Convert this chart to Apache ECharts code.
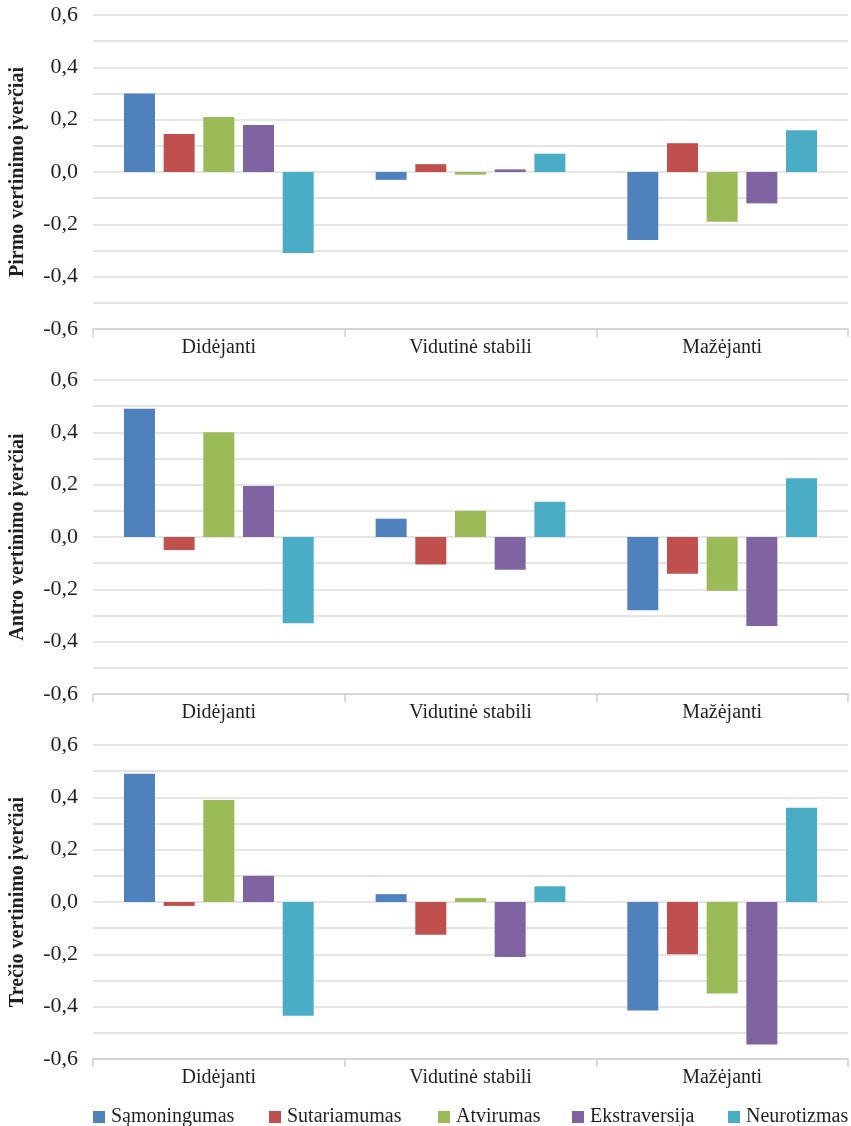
<!DOCTYPE html>
<html lang="lt">
<head>
<meta charset="utf-8">
<title>Vertinimo įverčiai</title>
<script src="https://cdn.jsdelivr.net/npm/echarts@6/dist/echarts.min.js"></script>
<style>
  html, body { margin: 0; padding: 0; background: #ffffff; }
  #chart { width: 851px; height: 1126px; }
</style>
</head>
<body>
<div id="chart"></div>
<script>
// Trajectory groups on the horizontal axis
const categories = ['Didėjanti', 'Vidutinė stabili', 'Mažėjanti'];

// Personality traits (one bar series each)
const traits = ['Sąmoningumas', 'Sutariamumas', 'Atvirumas', 'Ekstraversija', 'Neurotizmas'];
const traitColors = ['#4f81bd', '#c0504d', '#9bbb59', '#8064a2', '#4bacc6'];

// Estimates per trait (rows follow `traits`, columns follow `categories`)
const pirmoVertinimo = [
  [0.30, -0.03, -0.26],
  [0.145, 0.03, 0.11],
  [0.21, -0.01, -0.19],
  [0.18, 0.01, -0.12],
  [-0.31, 0.07, 0.16]
];
const antroVertinimo = [
  [0.49, 0.07, -0.28],
  [-0.05, -0.105, -0.14],
  [0.40, 0.10, -0.205],
  [0.195, -0.125, -0.34],
  [-0.33, 0.135, 0.225]
];
const trecioVertinimo = [
  [0.49, 0.03, -0.415],
  [-0.015, -0.125, -0.20],
  [0.39, 0.015, -0.35],
  [0.10, -0.21, -0.545],
  [-0.435, 0.06, 0.36]
];

const panelTitles = ['Pirmo vertinimo įverčiai', 'Antro vertinimo įverčiai', 'Trečio vertinimo įverčiai'];
const panelData = [pirmoVertinimo, antroVertinimo, trecioVertinimo];

// Value axis range and labelled step
const yMin = -0.6, yMax = 0.6, yStep = 0.2;

// Legend item left edges
const legendLeft = [88, 264, 433, 567, 723];

const serif = '"Liberation Serif", "DejaVu Serif", serif';
const textColor = '#231f20';
const gridColor = '#dcdcdc';

const gridTops = [15, 380, 745];
const gridHeight = 314;

const grids = gridTops.map(t => ({ left: 88, right: 3, top: t, height: gridHeight }));

const xAxes = gridTops.map((_, i) => ({
  type: 'category',
  gridIndex: i,
  data: categories,
  boundaryGap: true,
  axisLine: { onZero: false, lineStyle: { color: '#cfcfcf', width: 1.5 } },
  axisTick: { show: true, interval: 0, length: 8, lineStyle: { color: '#cfcfcf', width: 1.5 } },
  axisLabel: { interval: 0, margin: 9, fontFamily: serif, fontSize: 20, color: textColor },
  splitLine: { show: false }
}));

const yAxes = gridTops.map((_, i) => ({
  type: 'value',
  gridIndex: i,
  min: yMin,
  max: yMax,
  interval: yStep,
  name: panelTitles[i],
  nameLocation: 'middle',
  nameRotate: 90,
  nameGap: 65,
  nameTextStyle: { fontFamily: serif, fontSize: 20, fontWeight: 'bold', color: textColor },
  axisLine: { show: false },
  axisTick: { show: false },
  minorTick: { show: false, splitNumber: 2 },
  splitLine: { show: true, lineStyle: { color: gridColor, width: 1.5 } },
  minorSplitLine: { show: true, lineStyle: { color: gridColor, width: 1.5 } },
  axisLabel: {
    margin: 15,
    fontFamily: serif,
    fontSize: 22,
    color: textColor,
    formatter: v => (Math.round(v * 10) / 10).toFixed(1).replace('.', ',')
  }
}));

const series = [];
panelData.forEach((rows, p) => {
  rows.forEach((vals, t) => {
    series.push({
      type: 'bar',
      name: traits[t],
      xAxisIndex: p,
      yAxisIndex: p,
      data: vals,
      barWidth: 31,
      barGap: '28%',
      itemStyle: { color: traitColors[t] },
      emphasis: { disabled: true }
    });
  });
});

const legends = traits.map((name, i) => ({
  data: [name],
  left: legendLeft[i],
  top: 1102,
  orient: 'horizontal',
  icon: 'rect',
  itemWidth: 12,
  itemHeight: 12,
  selectedMode: false,
  textStyle: { fontFamily: serif, fontSize: 20, color: textColor, padding: [0, 0, 0, 1] }
}));

const chart = echarts.init(document.getElementById('chart'), null, { renderer: 'canvas' });
chart.setOption({
  animation: false,
  color: traitColors,
  grid: grids,
  xAxis: xAxes,
  yAxis: yAxes,
  legend: legends,
  series: series
});
</script>
</body>
</html>
